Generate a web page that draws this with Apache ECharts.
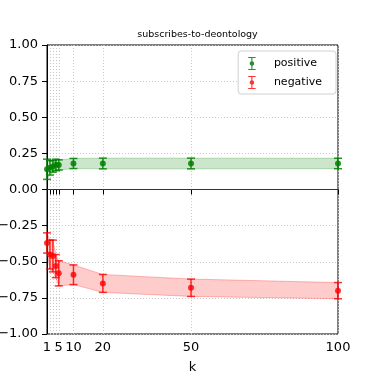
<!DOCTYPE html>
<html>
<head>
<meta charset="utf-8">
<script src="https://cdn.jsdelivr.net/npm/echarts@6/dist/echarts.min.js"></script>
<style>
  html, body { margin: 0; padding: 0; background: #fff; }
  #chart { width: 375px; height: 375px; }
</style>
</head>
<body>
<div id="chart"></div>
<script>
const ks = [1, 2, 3, 4, 5, 10, 20, 50, 100]
const posMean = [0.14, 0.15, 0.16, 0.17, 0.17, 0.18, 0.18, 0.18, 0.18]
const posErr = [0.07, 0.05, 0.04, 0.04, 0.035, 0.035, 0.037, 0.037, 0.036]
const negMean = [-0.37, -0.45, -0.46, -0.53, -0.58, -0.59, -0.65, -0.68, -0.70]
const negErr = [0.07, 0.1, 0.11, 0.08, 0.087, 0.068, 0.062, 0.06, 0.056]
const xTicks = [1, 2, 3, 4, 5, 10, 20, 50, 100]
const xLabels = [1, 5, 10, 20, 50, 100]

const GREEN = 'rgba(0,128,0,0.85)'
const RED = 'rgba(255,0,0,0.8)'

const iconPath = 'path://M1,0H9V1.2H5.6V4.6A2.5,2.5,0,0,1,5.6,9.4V12.8H9V14H1V12.8H4.4V9.4A2.5,2.5,0,0,1,4.4,4.6V1.2H1Z'

function rows(mean, err) {
  return ks.map((k, i) => [k, mean[i], err[i]])
}

function bandSeries(mean, err, fill, edge) {
  return {
    type: 'custom',
    silent: true,
    z: 1,
    data: rows(mean, err),
    renderItem: (params, api) => {
      if (params.dataIndex !== 0) return null
      const upper = ks.map((k, i) => api.coord([k, mean[i] + err[i]]))
      const lower = ks.map((k, i) => api.coord([k, mean[i] - err[i]])).reverse()
      return {
        type: 'polygon',
        shape: { points: upper.concat(lower) },
        style: { fill: fill, stroke: edge, lineWidth: 1 },
      }
    },
  }
}

function errorSeries(mean, err, color) {
  return {
    type: 'custom',
    silent: true,
    z: 3,
    data: rows(mean, err),
    renderItem: (params, api) => {
      const x = api.value(0)
      const y = api.value(1)
      const e = api.value(2)
      const top = api.coord([x, y + e])
      const bot = api.coord([x, y - e])
      const cap = 4
      const st = { stroke: color, lineWidth: 1.5 }
      return {
        type: 'group',
        children: [
          { type: 'line', shape: { x1: top[0], y1: top[1], x2: bot[0], y2: bot[1] }, style: st },
          { type: 'line', shape: { x1: top[0] - cap, y1: top[1], x2: top[0] + cap, y2: top[1] }, style: st },
          { type: 'line', shape: { x1: bot[0] - cap, y1: bot[1], x2: bot[0] + cap, y2: bot[1] }, style: st },
        ],
      }
    },
  }
}

const chart = echarts.init(document.getElementById('chart'))

chart.setOption({
  animation: false,
  backgroundColor: '#fff',
  textStyle: { fontFamily: 'DejaVu Sans' },
  title: {
    text: 'subscribes-to-deontology',
    left: 192.5,
    top: 25,
    textAlign: 'center',
    textStyle: { fontSize: 9.5, fontWeight: 'normal', color: '#000', fontFamily: 'DejaVu Sans' },
  },
  legend: {
    orient: 'vertical',
    right: 39,
    top: 51,
    padding: [6, 14, 5, 10],
    itemGap: 6,
    itemWidth: 10,
    itemHeight: 13,
    backgroundColor: '#fff',
    borderColor: '#d0d0d0',
    borderWidth: 1,
    borderRadius: 3,
    textStyle: { fontSize: 11, color: '#000', padding: [0, 0, 0, 12], fontFamily: 'DejaVu Sans' },
    data: [
      { name: 'positive', icon: iconPath },
      { name: 'negative', icon: iconPath },
    ],
  },
  grid: {
    left: 47,
    right: 37,
    top: 45,
    bottom: 41,
    containLabel: false,
    outerBoundsMode: 'none',
    show: true,
    borderColor: '#000',
    borderWidth: 1,
    backgroundColor: 'transparent',
  },
  xAxis: {
    type: 'value',
    min: 1,
    max: 100,
    name: 'k',
    nameLocation: 'middle',
    nameGap: 27,
    nameTextStyle: { fontSize: 13, color: '#000' },
    axisLine: { show: true, lineStyle: { color: '#000', width: 1 } },
    axisTick: { show: true, customValues: xTicks, length: 5, lineStyle: { color: '#000' } },
    axisLabel: { customValues: xLabels, fontSize: 13, color: '#000', margin: 7 },
    splitLine: { show: true, lineStyle: { color: '#c8c8c8', type: [1, 2], width: 1 } },
  },
  yAxis: {
    type: 'value',
    min: -1,
    max: 1,
    interval: 0.25,
    axisLine: { show: true, lineStyle: { color: '#000', width: 1 } },
    axisTick: { show: true, length: 5, lineStyle: { color: '#000' } },
    axisLabel: {
      fontSize: 13,
      color: '#000',
      margin: 9,
      formatter: v => (v < 0 ? '\u2212' : '') + Math.abs(v).toFixed(2),
    },
    splitLine: { show: true, lineStyle: { color: '#c8c8c8', type: [1, 2], width: 1 } },
  },
  series: [
    bandSeries(posMean, posErr, 'rgba(0,128,0,0.2)', 'rgba(0,128,0,0.25)'),
    bandSeries(negMean, negErr, 'rgba(255,0,0,0.2)', 'rgba(255,0,0,0.25)'),
    errorSeries(posMean, posErr, GREEN),
    errorSeries(negMean, negErr, RED),
    {
      name: 'positive',
      type: 'scatter',
      z: 4,
      symbolSize: 6,
      itemStyle: { color: GREEN, opacity: 1 },
      data: ks.map((k, i) => [k, posMean[i]]),
      markLine: {
        silent: true,
        symbol: 'none',
        label: { show: false },
        lineStyle: { color: '#333', type: 'solid', width: 1 },
        data: [{ yAxis: 0 }],
      },
    },
    {
      name: 'negative',
      type: 'scatter',
      z: 4,
      symbolSize: 6,
      itemStyle: { color: RED, opacity: 1 },
      data: ks.map((k, i) => [k, negMean[i]]),
    },
  ],
})
</script>
</body>
</html>
